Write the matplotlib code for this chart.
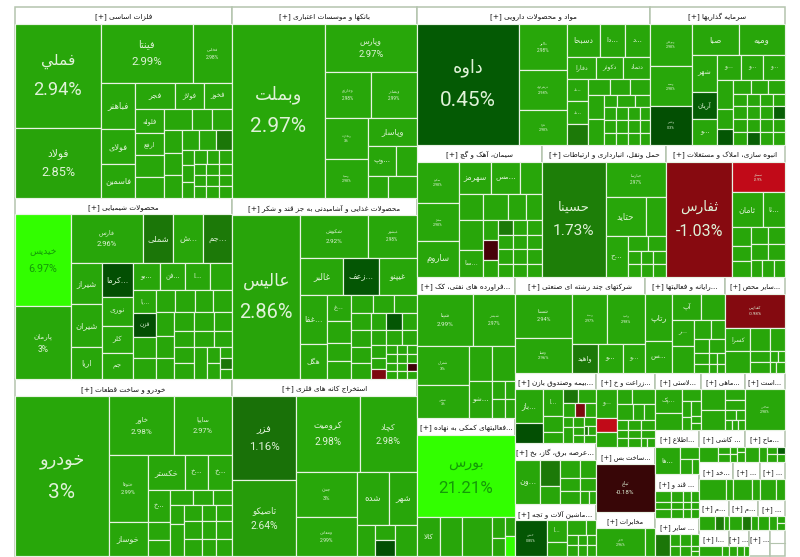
import numpy as np
import matplotlib
matplotlib.use('Agg')
import matplotlib.pyplot as plt
from matplotlib.patches import Rectangle
from matplotlib.colors import to_rgb

# ---------- treemap data: every number below is a weight ----------
def L(size, label='', pct='', chg=None):
    if chg is None:
        chg = float(pct.strip('%')) if pct else 2.95
    return dict(kind='leaf', size=size, label=label, pct=pct, chg=chg)
def H(size, *kids): return dict(kind='h', size=size, kids=kids)
def V(size, *kids): return dict(kind='v', size=size, kids=kids)
def S(size, title, body=None): return dict(kind='sector', size=size, title=title, body=body)

felezat = H(215,
    V(85, L(104,'فملي','2.94%'), L(69,'فولاد','2.85%')),
    V(130,
      H(59, L(91,'فینتا','2.99%'), L(39,'فخاس','2.98%')),
      H(114,
        V(34, L(46,'فباهنر'), L(35,'فولای'), L(33,'فاسمین')),
        V(96,
          H(26, L(40,'فجر'), L(28,'فولاژ'), L(28,'فخوز')),
          H(88,
            V(29, L(24,'فلوله'), L(22,'ارفع'), 21, 21),
            V(67,
              H(21,27,20,20),
              H(67,
                V(17,22,22,22),
                V(50,
                  H(19,17,16,L(15,chg=1.4)),
                  H(47,
                    V(12,15,17,15),
                    V(38,
                      H(14,13,12,13),
                      H(33, V(12,11,11,11), V(13,11,11,11), V(13,11,11,11))))))))))))

banks = H(184,
    L(92,'وبملت','2.97%'),
    V(92,
      L(48,'وپارس','2.97%'),
      H(46, L(46,'وخارزم','2.98%'), L(46,'وبصادر','2.99%')),
      H(80,
        V(43, L(41,'وتجارت','3%'), L(39,'وسینا','2.98%')),
        V(48,
          L(28,'وپاسار'),
          H(30, L(27,'...وپ'), 21),
          H(22, 19, 29)))))

pharma = H(232,
    L(102,'داوه','0.45%'),
    H(130,
      V(47, L(46,'دالبر','2.98%'), L(40,'دزهراوی','2.98%'), L(35,'دفرا','2.98%')),
      V(82,
        H(33, L(32,'دسبحا'), L(25,'...دا'), L(24,'...د')),
        H(22, L(28,'دفارا'), L(27,'دکوثر'), L(26,'دتماد')),
        H(66,
          V(21, L(22,'...د'), L(23,'...د'), L(21,chg=1.5)),
          V(61,
            H(16,21,20,19),
            H(50,
              V(15,24,26),
              V(45,
                H(12,13,17,14),
                H(38, V(12,13,13,12), V(12,13,13,12), V(11,13,13,12), V(10,13,13,12)))))))))

invest = H(135,
    V(42, L(42,'وبوعلی','2.98%'), L(40,'وسپه','2.98%'), L(39,'وغدیر','0.3%')),
    V(93,
      H(32, L(46,'صبا'), L(46,'ومیه')),
      H(90,
        V(25, L(36,'شهر'), L(27,'آریان','',0.5), L(26,'...و')),
        V(67,
          H(24, L(23,'...و'), L(22,'...و'), L(21,'...و')),
          H(65,
            V(16,29,20,L(16,chg=0.4)),
            V(51,
              H(14,17,16,16),
              H(51, V(13,12,13,13,13), V(13,12,13,13,L(13,chg=0.6)), V(13,12,13,13,13),
                    V(12,12,L(13,chg=0.6),13,13))))))))

cement = H(124,
    V(41, L(41,'سکرد','2.98%'), L(37,'سفار','2.98%'), L(36,'ساروم')),
    V(82,
      H(32, L(32,'سهرمز'), L(28,'...مس'), 22),
      H(26, 23,24,18,15),
      H(56,
        V(24, 29, L(26,'...سا')),
        V(58,
          H(58,
            V(15,19,L(19,chg=-0.3),16),
            V(43,
              H(14,L(14,chg=1.5),14,15),
              H(41, V(14,14,14,13), V(14,14,14,13), V(15,14,14,13))))))))

transport = H(123,
    L(63,'حسینا','1.73%'),
    V(60,
      L(35,'حپارسا','2.97%'),
      H(39, L(40,'حتاید'), 20),
      H(40,
        V(22, L(40,'...ح')),
        V(38, H(14,20,18), H(13,13,12,13), H(13,13,12,13)))))

estate = H(119,
    L(66,'ثفارس','-1.03%'),
    V(53,
      L(30,'ثمسکن','-2.9%'),
      H(35, L(29,'ثامان'), L(21,'...ثا')),
      H(49,
        V(18, 18,15,16),
        V(33, H(16,17,16), H(16,17,16), H(17,11,11,11)))))

refinery = V(122,
    H(51, L(55,'شپنا','2.99%'), L(42,'شبندر','2.97%')),
    H(71,
      V(51, L(39,'شتران','3%'), L(32,'شپاس','3%')),
      V(46,
        H(35, 23, 22),
        H(36, L(23,'...شو'), V(22, H(17,12,10), H(19,12,10))))))

multi = H(130,
    V(57, L(43,'شستا','2.94%'), L(34,'وصنا','2.96%')),
    V(73,
      H(48, L(35,'وصند','2.97%'), L(37,'وامید','2.98%')),
      H(28, L(26,'واهید','',1.5), L(25,'...و'), L(22,'...و'))))

computer = H(79,
    V(26, L(45,'رتاپ'), L(30,'...س')),
    V(52,
      H(25, L(29,'آپ'), 23),
      H(51,
        V(22, L(25,'...ر'), 25),
        V(30, H(18,15,12), H(13,14,15), H(10,14,8,8), H(8,14,8,8)))))

other = V(76,
    L(33,'کفپارس','-0.98%'),
    H(42,
      V(24, L(21,'کسرا'), 20),
      V(19, 21, 10, 10),
      V(14, 21, H(10,7,6), H(10,5,8))))

insurance = H(81,
    V(28, L(31,'...باز'), L(19,chg=0.3)),
    V(19, L(25,'...ا'), 15, 10),
    V(33,
      H(13, L(14,chg=1.4), 16),
      H(13, 11, L(9,chg=-0.9), 10),
      H(24, V(10,9,14), V(10,8,7,7), V(11,8,H(8,L(4,chg=1.4),7),7))))

electric = H(81,
    L(24,'...ون'),
    V(19, L(23,chg=1.5), 16),
    V(34, H(16,18,15), H(11,18,15), H(11,18,8,6)))

machinery = H(81,
    L(31,'خمش','0.85%',0.4),
    V(20, L(20,'...ا'), 13),
    V(28, H(14,17,9), H(10,10,8,8), H(10,10,8,8)))

agri = H(57,
    V(20, L(25,'...و'), L(13,chg=-2.9), 13),
    V(37, H(13,15,22), H(14,15,10,10), H(9,10,12,13), H(7,10,12,13), H(8,10,12,6,7)))

construct = L(58,'ثباغ','-0.18%')
telecom = H(58, L(48,'اخابر','2.96%'), 10)

bourse = V(119,
    L(81,'بورس','21.21%'),
    H(38, L(22,'کالا'), 21, 29, V(12,20,18), V(10,18,L(20,chg=7))))

chem = H(215,
    V(55, L(91,'خیدیس','6.97%'), L(72,'پارمان','3%')),
    V(160,
      H(48, L(72,'فارس','2.96%'), L(30,'شملی','',1.4), L(29,'...ش'), L(29,'...جم',chg=1.5)),
      H(115,
        V(31, L(41,'شیراز'), L(42,'شیران'), L(32,'اریا')),
        V(31, L(33,'...کرما','',0.3), L(29,'نوری'), L(26,'کلر'), L(26,'جم')),
        V(98,
          H(27, L(26,'...بو'), L(25,'...فن'), L(24,'...ا'), 22),
          H(88,
            V(23, L(22,'...یا'), L(23,'قزن','',0.3), 20, 21),
            V(75,
              H(22,18,19,18,18),
              H(66,
                V(18,23,21,20),
                V(57,
                  H(18,19,19,18),
                  H(15,19,19,18),
                  H(31, V(19,15,16), V(13,31), V(12,15,16), V(12,8,L(8,chg=1.4),7))))))))))

khodro = H(215,
    L(93,'خودرو','3%'),
    V(122,
      H(59, L(64,'خاور','2.98%'), L(57,'سایپا','2.97%')),
      H(100,
        V(38, L(66,'ختوقا','2.99%'), L(34,'خوساز')),
        V(83,
          H(34, L(36,'خکستر'), L(23,'...خ'), L(23,'...خ')),
          H(66,
            V(22, L(32,'...خ'), 18, 16),
            V(61,
              H(15,22,20,18),
              H(51,
                V(14,19,32),
                V(47, H(16,14,11,12), H(18,14,11,12), H(17,14,11,12)))))))))

food = H(184,
    L(68,'عالیس','2.86%'),
    V(116,
      H(43, L(67,'شکوش','2.92%'), L(49,'غبشهر','2.98%')),
      H(37, L(42,'غالبر'), L(36,'...زعف','',0.4), L(38,'غیپنو')),
      H(83,
        V(26, L(48,'...غفا'), L(35,'هگل')),
        V(24, L(26,'...غ'), 21, 18, 18),
        V(66,
          H(18,22,20,22),
          H(65,
            V(20,16,16,16,15),
            V(15,16,14,13,10,L(10,chg=-0.9)),
            V(30,
              H(16,L(15,chg=0.4),15),
              H(15,15,15),
              H(33, V(10,9,8,8,8), V(10,9,8,8,8), V(10,9,8,L(8,chg=-0.2),8))))))))

mining = H(184,
    V(64, L(84,'فزر','1.16%'), L(75,'تاصیکو','2.64%')),
    V(120,
      H(76, L(63,'کرومیت','2.98%'), L(57,'کچاد','2.98%')),
      H(83,
        V(60, L(44,'چدن','3%'), L(39,'ومعادن','2.99%')),
        V(60,
          H(52, L(32,'شده'), L(28,'شهر')),
          H(31, 18, V(20,15,L(16,chg=0.3)), 22)))))

misc_a = H(44, V(26, L(21,'...پك'), 15), V(18, 11, H(27, V(8,13,11), V(9,13,6,6))))
misc_b = H(43, V(23, 19, 19), V(19, 9, 8, H(8,10,9), H(8,6,6,6)))
misc_c = L(39,'شاخص','2.98%')
misc_d = H(43, L(24,'...ها'), V(18, 10, H(13,11,7)))
misc_e = H(43, 17, V(11,7,7), V(7,7,7), V(7,5,9))
misc_f = H(39, 13, 7, V(9,7,7), V(7,L(7,chg=0.5),7))
misc_g = H(42, L(14,chg=1.4), V(10,11,10), V(10,11,10), V(8,11,5,5))
misc_i = V(24, H(10,14,11,7,7), H(6,14,11,7,7), H(8,14,11,7,7))
misc_j = H(33, L(26), L(7))
misc_k = H(26, L(16), L(7))
misc_l = H(24, L(14), L(8))
misc_m = H(28, L(13), L(8,chg=1.6), L(4))
misc_n = H(28, L(11), L(8,chg=1.4), L(6))
misc_o = H(25, 9, 7, V(7,4,4))
misc_p = H(28, L(21), L(7))
misc_q = H(19, L(8), L(6), L(5))

column_1 = V(217,
    S(191,'فلزات اساسی',felezat),
    S(182,'محصولات شیمیایی',chem),
    S(177,'خودرو و ساخت قطعات',khodro))
column_2 = V(185,
    S(191,'بانکها و موسسات اعتباری',banks),
    S(181,'محصولات غذایی و آشامیدنی به جز قند و شکر',food),
    S(177,'استخراج کانه های فلزی',mining))
small_top = H(57, S(46,'...لاستی',misc_a), S(44,'...ماهی',misc_b), S(40,'...است',misc_c))
small_left = V(44, S(44,'...اطلاع',misc_d), S(43,'... قند و',misc_i), S(38,'... سایر',misc_g))
small_right = V(86,
    H(32, S(46,'... کاشی',misc_e), S(40,'...ماح',misc_f)),
    H(37, S(34,'...خد',misc_j), S(26,'...',misc_k), S(25,'...',misc_l)),
    H(30, S(30,'...م',misc_m), S(29,'...م',misc_n), S(27,'...',misc_o)),
    H(26, S(30,'...ا',misc_p), S(20,'...',misc_q), S(21,'...'), S(15,'')))
small = V(130, small_top, H(125, small_left, small_right))
row_3_low = H(182,
    V(81, S(70,'...بیمه وصندوق بازن',insurance), S(60,'...عرضه برق، گاز، بخ',electric), S(52,'...ماشین آلات و تجه',machinery)),
    V(59, S(74,'...زراعت و خ',agri), S(64,'...ساخت بس',construct), S(44,'مخابرات',telecom)),
    small)
row_3_high = H(95, S(130,'شرکتهای چند رشته ای صنعتی',multi), S(80,'...رایانه و فعالیتها',computer), S(60,'...سایر محص',other))
column_3 = V(368,
    H(138, S(233,'مواد و محصولات دارویی',pharma), S(135,'سرمایه گذاریها',invest)),
    H(132, S(125,'سیمان، آهک و گچ',cement), S(124,'حمل ونقل، انبارداری و ارتباطات',transport), S(119,'انبوه سازی، املاک و مستغلات',estate)),
    H(279,
      V(98, S(140,'...فراورده های نفتی، کک',refinery), S(137,'...فعالیتهای کمکی به نهاده',bourse)),
      V(270, row_3_high, row_3_low)))
board = H(770, column_1, column_2, column_3)

# ---------- Arabic shaping (matplotlib draws glyphs without joining them) ----------
FORMS = {'ا':(0xFE8D,0xFE8E),'آ':(0xFE81,0xFE82),'د':(0xFEA9,0xFEAA),'ذ':(0xFEAB,0xFEAC),'ر':(0xFEAD,0xFEAE),
         'ز':(0xFEAF,0xFEB0),'ژ':(0xFB8A,0xFB8B),'و':(0xFEED,0xFEEE)}
for ch, base in {'ب':0xFE8F,'پ':0xFB56,'ت':0xFE95,'ث':0xFE99,'ج':0xFE9D,'چ':0xFB7A,'ح':0xFEA1,'خ':0xFEA5,'س':0xFEB1,
                 'ش':0xFEB5,'ص':0xFEB9,'ض':0xFEBD,'ط':0xFEC1,'ظ':0xFEC5,'ع':0xFEC9,'غ':0xFECD,'ف':0xFED1,'ق':0xFED5,
                 'ک':0xFB8E,'گ':0xFB92,'ل':0xFEDD,'م':0xFEE1,'ن':0xFEE5,'ه':0xFEE9,'ی':0xFBFC,'ي':0xFEF1}.items():
    FORMS[ch] = (base, base+1, base+2, base+3)

def visual(s):
    s = s.replace('لا', '\uFEFB').replace('ك', 'ک')
    out = []
    for i, c in enumerate(s):
        if c == '\uFEFB':
            prev = s[i-1] if i else ''
            out.append('\uFEFC' if prev in FORMS and len(FORMS[prev]) == 4 else c)
            continue
        if c not in FORMS:
            out.append(c); continue
        prev = s[i-1] if i else ''
        nxt = s[i+1] if i+1 < len(s) else ''
        jp = prev in FORMS and len(FORMS[prev]) == 4
        jn = len(FORMS[c]) == 4 and (nxt in FORMS or nxt == '\uFEFB')
        f = FORMS[c]
        out.append(chr(f[3] if jp and jn else f[1] if jp else f[2] if jn else f[0]))
    return ''.join(reversed(out))

# ---------- drawing ----------
fig = plt.figure(figsize=(8, 5.57), dpi=100)
ax = fig.add_axes([0, 0, 1, 1])
ax.set_xlim(0, 800); ax.set_ylim(557, 0); ax.axis('off')

CH = [-3, -1, -0.2, 0, 0.45, 1.2, 1.75, 2.9, 5, 7, 30]
CC = ['#c40a18', '#860a10', '#3e0008', '#023a02', '#045a04', '#1a7208', '#1d7e08', '#28a50a', '#2cd806', '#32ff00', '#32ff00']
RGB = np.array([to_rgb(c) for c in CC])
def colour(v):
    return tuple(np.interp(v, CH, RGB[:, k]) for k in range(3))

def pct_size(a):
    return float(np.interp(np.sqrt(a), [42, 62, 72, 85, 94, 111, 127], [2.6, 5.8, 7.8, 11, 13, 15, 15]))
def lab_size(a):
    return float(np.interp(np.sqrt(a), [15, 25, 32, 47], [3.0, 4.6, 5.6, 6.8]))

def leaf(n, x, y, w, h):
    col = colour(n['chg'])
    ax.add_patch(Rectangle((x, y), w, h, fc=col, ec='#e8f3e4', lw=0.85, zorder=2))
    tc = '#149a08' if n['chg'] > 5 else '#dff2d8'
    cx, cy = x + w/2, y + h/2
    if n['pct']:
        fs = pct_size(w*h)
        d = fs/0.72*0.78
        ax.text(cx, cy-d, visual(n['label']), ha='center', va='center', fontsize=fs*0.85, color=tc,
                family='DejaVu Sans', zorder=3)
        ax.text(cx, cy+d, n['pct'], ha='center', va='center', fontsize=fs, color=tc, family='Roboto', zorder=3)
    elif n['label']:
        ax.text(cx, cy, visual(n['label']), ha='center', va='center', fontsize=lab_size(w*h), color=tc,
                family='DejaVu Sans', zorder=3)

def draw(n, x, y, w, h):
    if n['kind'] == 'leaf':
        leaf(n, x, y, w, h); return
    if n['kind'] == 'sector':
        ax.add_patch(Rectangle((x, y), w, h, fc='white', ec='#b4c4ae', lw=1.1, zorder=1))
        if n['title']:
            ax.text(x + w/2, y + 10, '[+] ' + visual(n['title']), ha='center', va='center', fontsize=5.2 if w > 60 else 4.8,
                    color='#111111', family='DejaVu Sans', zorder=3)
        elif n['body'] is None:
            ax.plot([x, x+w], [y+h/2, y+h/2], color='#b4c4ae', lw=0.8, zorder=2)
        if n['body'] is not None:
            draw(n['body'], x, y+16.5, w, h-16.5)
        return
    tot = sum(k if not isinstance(k, dict) else k['size'] for k in n['kids'])
    pos = x if n['kind'] == 'h' else y
    for k in n['kids']:
        if not isinstance(k, dict):
            k = L(k)
        if n['kind'] == 'h':
            d = w*k['size']/tot
            draw(k, pos, y, d, h)
        else:
            d = h*k['size']/tot
            draw(k, x, pos, w, d)
        pos += d

draw(board, 15, 7, 770, 549)
fig.savefig('out.png', dpi=100, facecolor='white')
